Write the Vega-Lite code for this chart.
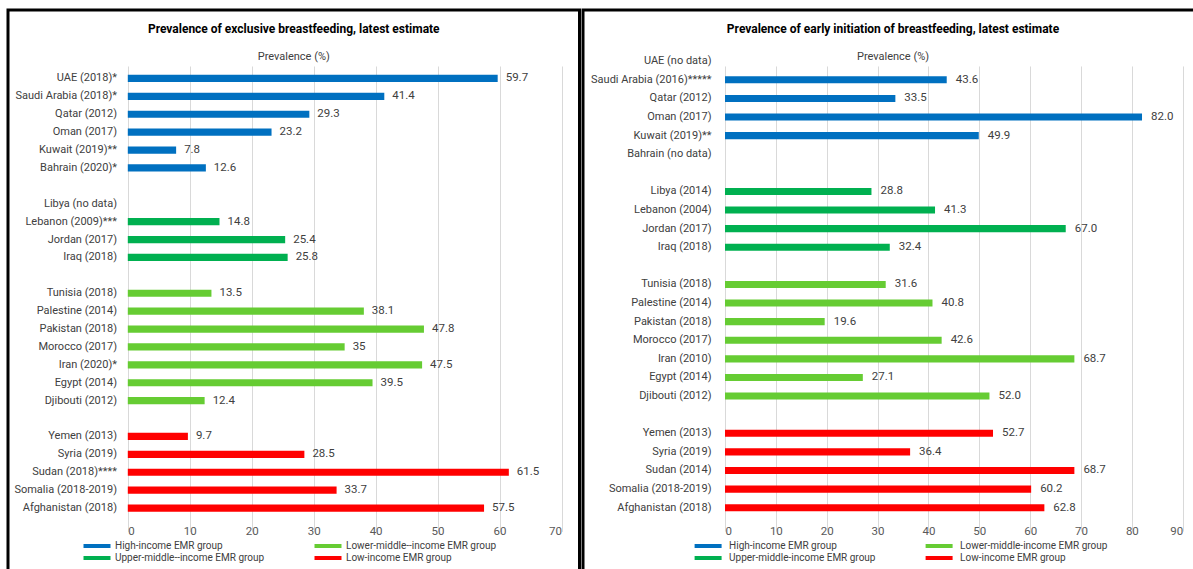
{
  "$schema": "https://vega.github.io/schema/vega-lite/v6.json",
  "padding": {"left": 6, "top": 8, "right": 0, "bottom": 0},
  "background": "white",
  "spacing": 0,
  "config": {
    "view": {"stroke": "black", "strokeWidth": 3},
    "font": "Roboto",
    "axis": {"labelFont": "Roboto", "titleFont": "Roboto"},
    "legend": {"labelFont": "Roboto"},
    "title": {"font": "Roboto", "subtitleFont": "Roboto"}
  },
  "resolve": {
    "scale": {"x": "independent", "y": "independent", "fill": "independent"},
    "legend": {"fill": "independent"}
  },
  "hconcat": [
    {
      "width": 571.5,
      "height": 563,
      "title": {
        "text": "Prevalence of exclusive breastfeeding, latest estimate",
        "subtitle": "Prevalence (%)",
        "anchor": "middle",
        "frame": "group",
        "offset": -53,
        "fontSize": 12,
        "fontWeight": "bold",
        "color": "#000000",
        "subtitleFontSize": 11,
        "subtitleColor": "#404040",
        "subtitlePadding": 15
      },
      "data": {
        "values": [
          {"country": "UAE (2018)*", "value": 59.7, "group": "High-income EMR group"},
          {"country": "Saudi Arabia (2018)*", "value": 41.4, "group": "High-income EMR group"},
          {"country": "Qatar (2012)", "value": 29.3, "group": "High-income EMR group"},
          {"country": "Oman (2017)", "value": 23.2, "group": "High-income EMR group"},
          {"country": "Kuwait (2019)**", "value": 7.8, "group": "High-income EMR group"},
          {"country": "Bahrain (2020)*", "value": 12.6, "group": "High-income EMR group"},
          {"country": "Lebanon (2009)***", "value": 14.8, "group": "Upper-middle--income EMR group"},
          {"country": "Jordan (2017)", "value": 25.4, "group": "Upper-middle--income EMR group"},
          {"country": "Iraq (2018)", "value": 25.8, "group": "Upper-middle--income EMR group"},
          {"country": "Tunisia (2018)", "value": 13.5, "group": "Lower-middle--income EMR group"},
          {"country": "Palestine (2014)", "value": 38.1, "group": "Lower-middle--income EMR group"},
          {"country": "Pakistan (2018)", "value": 47.8, "group": "Lower-middle--income EMR group"},
          {"country": "Morocco (2017)", "value": 35, "group": "Lower-middle--income EMR group"},
          {"country": "Iran (2020)*", "value": 47.5, "group": "Lower-middle--income EMR group"},
          {"country": "Egypt (2014)", "value": 39.5, "group": "Lower-middle--income EMR group"},
          {"country": "Djibouti (2012)", "value": 12.4, "group": "Lower-middle--income EMR group"},
          {"country": "Yemen (2013)", "value": 9.7, "group": "Low-income EMR group"},
          {"country": "Syria (2019)", "value": 28.5, "group": "Low-income EMR group"},
          {"country": "Sudan (2018)****", "value": 61.5, "group": "Low-income EMR group"},
          {"country": "Somalia (2018-2019)", "value": 33.7, "group": "Low-income EMR group"},
          {"country": "Afghanistan (2018)", "value": 57.5, "group": "Low-income EMR group"}
        ]
      },
      "layer": [
        {
          "mark": {"type": "bar"},
          "encoding": {
            "y": {
              "field": "country", "type": "nominal",
              "scale": {
                "domain": ["__top", "UAE (2018)*", "Saudi Arabia (2018)*", "Qatar (2012)", "Oman (2017)", "Kuwait (2019)**", "Bahrain (2020)*", "__g1", "Libya (no data)", "Lebanon (2009)***", "Jordan (2017)", "Iraq (2018)", "__g2", "Tunisia (2018)", "Palestine (2014)", "Pakistan (2018)", "Morocco (2017)", "Iran (2020)*", "Egypt (2014)", "Djibouti (2012)", "__g3", "Yemen (2013)", "Syria (2019)", "Sudan (2018)****", "Somalia (2018-2019)", "Afghanistan (2018)"],
                "range": [41.6, 507],
                "paddingInner": 0.6,
                "paddingOuter": 0.3
              },
              "axis": {
                "orient": "left", "offset": -108.5, "title": null, "domain": false, "ticks": false, "tickSize": 0,
                "labelPadding": 0, "labelFontSize": 11, "labelColor": "#404040", "labelLimit": 300, "grid": false,
                "labelExpr": "indexof(datum.value, '__') === 0 ? '' : datum.value"
              }
            },
            "x": {
              "field": "value", "type": "quantitative",
              "scale": {"domain": [0, 70], "range": [119.8, 553.5], "nice": false},
              "axis": {
                "orient": "bottom", "offset": -56, "title": null, "domain": false, "ticks": false, "tickSize": 0,
                "labelPadding": 8, "labelFontSize": 11.5, "labelColor": "#595959", "grid": true, "gridColor": "#D9D9D9",
                "values": [0, 10, 20, 30, 40, 50, 60, 70]
              }
            },
            "fill": {
              "field": "group", "type": "nominal",
              "scale": {
                "domain": ["High-income EMR group", "Upper-middle--income EMR group", "Lower-middle--income EMR group", "Low-income EMR group"],
                "range": ["#0070C0", "#00B050", "#66CC33", "#FF0000"]
              },
              "legend": {
                "orient": "none", "legendX": 84, "legendY": 531, "columns": 2, "title": null,
                "symbolType": "M-4,-0.6H4V0.6H-4Z", "symbolSize": 45.5625, "symbolStrokeWidth": 0,
                "labelFontSize": 10, "labelColor": "#404040", "columnPadding": 49, "rowPadding": 2, "labelOffset": 13,
                "encode": {"symbols": {"update": {"fill": [
                  {"test": "datum.value === 'High-income EMR group'", "value": "#4FA3DC"},
                  {"test": "datum.value === 'Upper-middle--income EMR group'", "value": "#00B050"},
                  {"test": "datum.value === 'Lower-middle--income EMR group'", "value": "#66CC33"},
                  {"value": "#FF0000"}
                ]}}}
              }
            }
          }
        },
        {
          "mark": {"type": "text", "align": "left", "baseline": "middle", "dx": 8, "fontSize": 11.5, "color": "#404040"},
          "encoding": {
            "y": {"field": "country", "type": "nominal"},
            "x": {"field": "value", "type": "quantitative"},
            "text": {"field": "value", "type": "quantitative"}
          }
        }
      ]
    },
    {
      "width": 620,
      "height": 563,
      "title": {
        "text": "Prevalence of early initiation of breastfeeding, latest estimate",
        "subtitle": "Prevalence (%)",
        "anchor": "middle",
        "frame": "group",
        "offset": -53,
        "fontSize": 12,
        "fontWeight": "bold",
        "color": "#000000",
        "subtitleFontSize": 11,
        "subtitleColor": "#404040",
        "subtitlePadding": 15
      },
      "data": {
        "values": [
          {"country": "Saudi Arabia (2016)*****", "value": 43.6, "group": "High-income EMR group"},
          {"country": "Qatar (2012)", "value": 33.5, "group": "High-income EMR group"},
          {"country": "Oman (2017)", "value": 82.0, "group": "High-income EMR group"},
          {"country": "Kuwait (2019)**", "value": 49.9, "group": "High-income EMR group"},
          {"country": "Libya (2014)", "value": 28.8, "group": "Upper-middle-income EMR group"},
          {"country": "Lebanon (2004)", "value": 41.3, "group": "Upper-middle-income EMR group"},
          {"country": "Jordan (2017)", "value": 67.0, "group": "Upper-middle-income EMR group"},
          {"country": "Iraq (2018)", "value": 32.4, "group": "Upper-middle-income EMR group"},
          {"country": "Tunisia (2018)", "value": 31.6, "group": "Lower-middle-income EMR group"},
          {"country": "Palestine (2014)", "value": 40.8, "group": "Lower-middle-income EMR group"},
          {"country": "Pakistan (2018)", "value": 19.6, "group": "Lower-middle-income EMR group"},
          {"country": "Morocco (2017)", "value": 42.6, "group": "Lower-middle-income EMR group"},
          {"country": "Iran (2010)", "value": 68.7, "group": "Lower-middle-income EMR group"},
          {"country": "Egypt (2014)", "value": 27.1, "group": "Lower-middle-income EMR group"},
          {"country": "Djibouti (2012)", "value": 52.0, "group": "Lower-middle-income EMR group"},
          {"country": "Yemen (2013)", "value": 52.7, "group": "Low-income EMR group"},
          {"country": "Syria (2019)", "value": 36.4, "group": "Low-income EMR group"},
          {"country": "Sudan (2014)", "value": 68.7, "group": "Low-income EMR group"},
          {"country": "Somalia (2018-2019)", "value": 60.2, "group": "Low-income EMR group"},
          {"country": "Afghanistan (2018)", "value": 62.8, "group": "Low-income EMR group"}
        ]
      },
      "layer": [
        {
          "mark": {"type": "bar"},
          "encoding": {
            "y": {
              "field": "country", "type": "nominal",
              "scale": {
                "domain": ["UAE (no data)", "Saudi Arabia (2016)*****", "Qatar (2012)", "Oman (2017)", "Kuwait (2019)**", "Bahrain (no data)", "__g1", "Libya (2014)", "Lebanon (2004)", "Jordan (2017)", "Iraq (2018)", "__g2", "Tunisia (2018)", "Palestine (2014)", "Pakistan (2018)", "Morocco (2017)", "Iran (2010)", "Egypt (2014)", "Djibouti (2012)", "__g3", "Yemen (2013)", "Syria (2019)", "Sudan (2014)", "Somalia (2018-2019)", "Afghanistan (2018)"],
                "range": [41.9, 507],
                "paddingInner": 0.62,
                "paddingOuter": 0.31
              },
              "axis": {
                "orient": "left", "offset": -128, "title": null, "domain": false, "ticks": false, "tickSize": 0,
                "labelPadding": 0, "labelFontSize": 11, "labelColor": "#404040", "labelLimit": 300, "grid": false,
                "labelExpr": "indexof(datum.value, '__') === 0 ? '' : datum.value"
              }
            },
            "x": {
              "field": "value", "type": "quantitative",
              "scale": {"domain": [0, 90], "range": [142, 599.7], "nice": false},
              "axis": {
                "orient": "bottom", "offset": -56, "title": null, "domain": false, "ticks": false, "tickSize": 0,
                "labelPadding": 8, "labelFontSize": 11.5, "labelColor": "#595959", "grid": true, "gridColor": "#D9D9D9",
                "values": [0, 10, 20, 30, 40, 50, 60, 70, 80, 90]
              }
            },
            "fill": {
              "field": "group", "type": "nominal",
              "scale": {
                "domain": ["High-income EMR group", "Upper-middle-income EMR group", "Lower-middle-income EMR group", "Low-income EMR group"],
                "range": ["#0070C0", "#00B050", "#66CC33", "#FF0000"]
              },
              "legend": {
                "orient": "none", "legendX": 120.1, "legendY": 531, "columns": 2, "title": null,
                "symbolType": "M-4,-0.6H4V0.6H-4Z", "symbolSize": 45.5625, "symbolStrokeWidth": 0,
                "labelFontSize": 10, "labelColor": "#404040", "columnPadding": 49, "rowPadding": 2, "labelOffset": 16,
                "encode": {"symbols": {"update": {"fill": [
                  {"test": "datum.value === 'High-income EMR group'", "value": "#4FA3DC"},
                  {"test": "datum.value === 'Upper-middle-income EMR group'", "value": "#00B050"},
                  {"test": "datum.value === 'Lower-middle-income EMR group'", "value": "#66CC33"},
                  {"value": "#FF0000"}
                ]}}}
              }
            }
          }
        },
        {
          "mark": {"type": "text", "align": "left", "baseline": "middle", "dx": 9, "fontSize": 11.5, "color": "#404040"},
          "encoding": {
            "y": {"field": "country", "type": "nominal"},
            "x": {"field": "value", "type": "quantitative"},
            "text": {"field": "value", "type": "quantitative", "format": ".1f"}
          }
        }
      ]
    }
  ]
}
